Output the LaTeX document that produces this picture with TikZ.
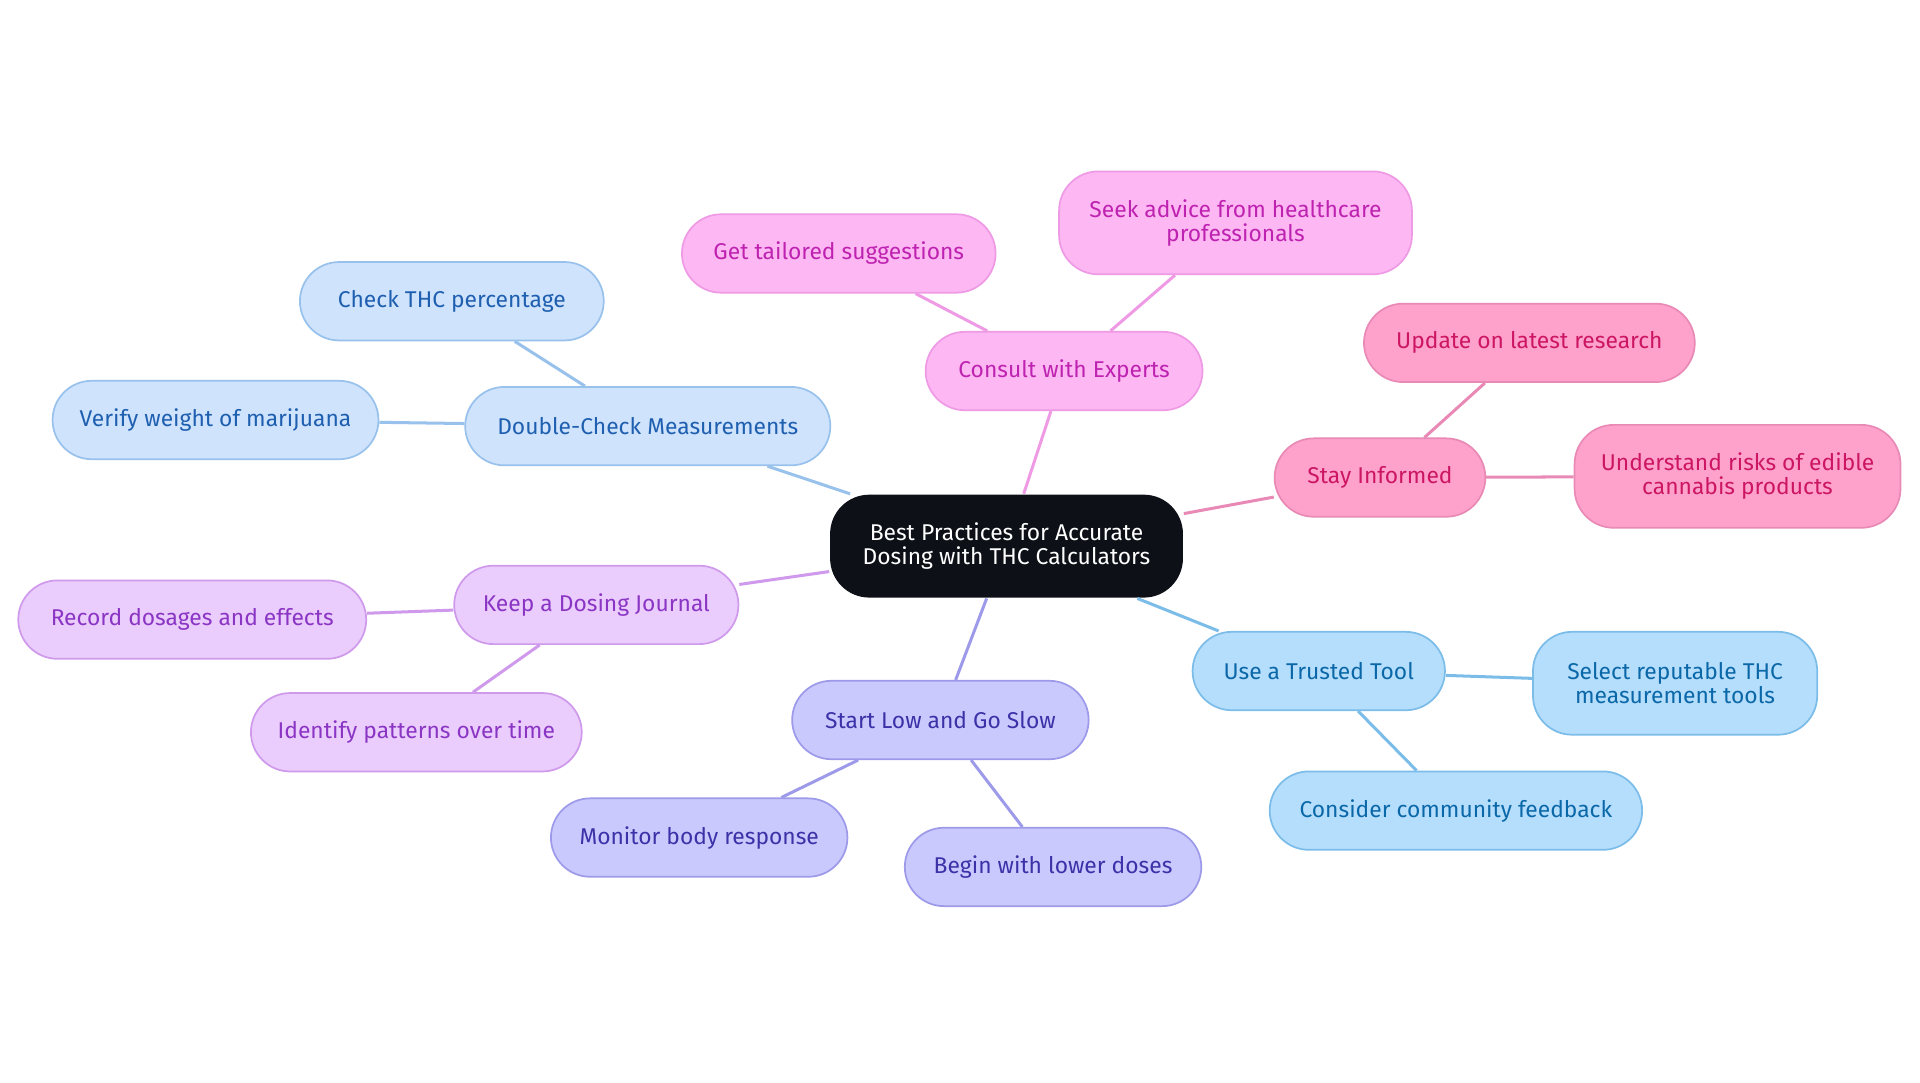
\documentclass[tikz,border=0pt]{standalone}
\usepackage{fontspec}
\setmainfont{Fira Sans}
\definecolor{rootc}{HTML}{0D1117}
\definecolor{bluef}{HTML}{CFE3FC}\definecolor{bluet}{HTML}{1F5FB0}\definecolor{bluel}{HTML}{98C2EC}
\definecolor{pinkf}{HTML}{FDB8F3}\definecolor{pinkt}{HTML}{BE22B0}\definecolor{pinkl}{HTML}{EE9AE4}
\definecolor{rosef}{HTML}{FEA2CC}\definecolor{roset}{HTML}{CC1663}\definecolor{rosel}{HTML}{E88AB5}
\definecolor{lilaf}{HTML}{EACDFC}\definecolor{lilat}{HTML}{8B35C4}\definecolor{lilal}{HTML}{CF9AEC}
\definecolor{indf}{HTML}{C9C9FD}\definecolor{indt}{HTML}{3B32A8}\definecolor{indl}{HTML}{9E9AEA}
\definecolor{skyf}{HTML}{B5DDFC}\definecolor{skyt}{HTML}{0B68A8}\definecolor{skyl}{HTML}{7BBDE8}
\begin{document}
\begin{tikzpicture}[x=0.01cm,y=-0.01cm]
  \tikzset{
    mm node/.style={draw=#1l,fill=#1f,text=#1t,rounded corners=0.32cm,minimum height=0.64cm,
      align=center,inner sep=1pt,font=\fontsize{5.3}{5.6}\selectfont},
    mm edge/.style={draw=#1l,line width=0.7pt}
  }
  \useasboundingbox (0,0) rectangle (1568,884);
  \node[fill=rootc,text=white,rounded corners=0.32cm,minimum width=2.88cm,minimum height=0.84cm,
    align=center,font=\fontsize{5.3}{5.6}\selectfont] (root) at (822,446)
    {Best Practices for Accurate\\Dosing with THC Calculators};
  \node[mm node=blue,minimum width=2.98cm] (dcm) at (529,348) {Double-Check Measurements};
  \node[mm node=blue,minimum width=2.48cm] (thc) at (369,246) {Check THC percentage};
  \node[mm node=blue,minimum width=2.66cm] (wgt) at (176,343) {Verify weight of marijuana};
  \node[mm node=pink,minimum width=2.26cm] (cwe) at (869,303) {Consult with Experts};
  \node[mm node=pink,minimum width=2.56cm] (gts) at (685,207) {Get tailored suggestions};
  \node[mm node=pink,minimum width=2.88cm,minimum height=0.84cm] (sah) at (1009,182) {Seek advice from healthcare\\professionals};
  \node[mm node=rose,minimum width=1.72cm] (sti) at (1127,390) {Stay Informed};
  \node[mm node=rose,minimum width=2.70cm] (ulr) at (1249,280) {Update on latest research};
  \node[mm node=rose,minimum width=2.66cm,minimum height=0.84cm] (urc) at (1419,389) {Understand risks of edible\\cannabis products};
  \node[mm node=lila,minimum width=2.32cm] (kdj) at (487,494) {Keep a Dosing Journal};
  \node[mm node=lila,minimum width=2.84cm] (rde) at (157,506) {Record dosages and effects};
  \node[mm node=lila,minimum width=2.70cm] (ipt) at (340,598) {Identify patterns over time};
  \node[mm node=ind,minimum width=2.42cm] (slg) at (768,588) {Start Low and Go Slow};
  \node[mm node=ind,minimum width=2.42cm] (mbr) at (571,684) {Monitor body response};
  \node[mm node=ind,minimum width=2.42cm] (bld) at (860,708) {Begin with lower doses};
  \node[mm node=sky,minimum width=2.06cm] (utt) at (1077,548) {Use a Trusted Tool};
  \node[mm node=sky,minimum width=2.32cm,minimum height=0.84cm] (srt) at (1368,558) {Select reputable THC\\measurement tools};
  \node[mm node=sky,minimum width=3.04cm] (ccf) at (1189,662) {Consider community feedback};

  \draw[mm edge=blue] (root) -- (dcm) (dcm) -- (thc) (dcm) -- (wgt);
  \draw[mm edge=pink] (root) -- (cwe) (cwe) -- (gts) (cwe) -- (sah);
  \draw[mm edge=rose] (root) -- (sti) (sti) -- (ulr) (sti) -- (urc);
  \draw[mm edge=lila] (root) -- (kdj) (kdj) -- (rde) (kdj) -- (ipt);
  \draw[mm edge=ind] (root) -- (slg) (slg) -- (mbr) (slg) -- (bld);
  \draw[mm edge=sky] (root) -- (utt) (utt) -- (srt) (utt) -- (ccf);
\end{tikzpicture}
\end{document}
